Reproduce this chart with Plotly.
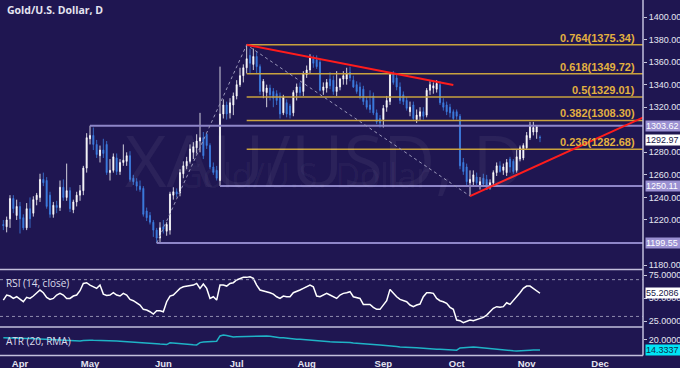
import pandas as pd
import plotly.graph_objects as go

# ---------------- data ----------------
all_days = pd.bdate_range("2016-03-24", "2016-12-30")
month_labels = ["Apr", "May", "Jun", "Jul", "Aug", "Sep", "Oct", "Nov", "Dec"]

opens = [1216,1214,1221,1239,1224,1232,1222,1213,1230,1226,1238,1240,1256,1255,1242,1225,1233,1231,1249,1240,
         1246,1229,1236,1242,1246,1266,1292,1295,1287,1277,1282,1287,1262,1264,1275,1263,1271,1272,1277,1257,
         1254,1250,1248,1228,1224,1218,1211,1204,1214,1210,1211,1242,1245,1244,1261,1268,1272,1280,1284,1290,
         1293,1296,1286,1267,1264,1255,1314,1322,1315,1322,1330,1340,1348,1355,1366,1358,1365,1356,1334,1333,
         1337,1334,1332,1330,1315,1324,1321,1315,1333,1338,1334,1349,1353,1363,1362,1360,1335,1337,1345,1344,
         1334,1338,1345,1345,1351,1344,1340,1338,1336,1326,1322,1330,1315,1310,1309,1320,1325,1349,1346,1338,
         1331,1326,1316,1322,1309,1312,1316,1313,1335,1337,1336,1340,1324,1322,1320,1316,1316,1312,1271,1267,
         1253,1254,1258,1250,1257,1256,1249,1253,1262,1268,1264,1262,1274,1272,1264,1274,1275,1284,1293,1298,
         1298,1293.5]
highs = [1220,1223,1242,1242,1238,1236,1225,1235,1240,1241,1244,1261,1262,1258,1245,1236,1237,1255,1256,1270,
         1249,1238,1245,1251,1268,1297,1303.62,1302,1291,1286,1292,1290,1274,1279,1279,1274,1287,1280,1281,1260,
         1257,1255,1250,1231,1227,1220,1213,1218,1220,1218,1245,1249,1248,1265,1272,1276,1287,1289,1296,1315,
         1298,1297,1288,1271,1268,1356,1327,1325,1328,1333,1344,1355,1358,1375.34,1372,1372,1370,1358,1345,1340,
         1340,1337,1335,1333,1331,1327,1323,1335,1341,1342,1352,1357,1367,1366,1366,1363,1342,1345,1351,1348,
         1352,1346,1352,1355,1356,1348,1343,1342,1339,1329,1335,1333,1318,1313,1322,1330,1351,1352,1349,1342,
         1334,1329,1325,1325,1318,1320,1320,1337,1343,1342,1344,1343,1328,1325,1323,1318,1318,1314,1275,1270,
         1264,1264,1262,1258,1261,1260,1256,1264,1271,1272,1270,1274,1276,1274,1282,1286,1288,1298,1307,1307,
         1304,1295]
lows = [1211,1209,1213,1226,1220,1208,1211,1211,1213,1223,1233,1236,1250,1230,1222,1222,1226,1228,1237,1237,
        1227,1226,1232,1237,1242,1262,1287,1282,1275,1271,1275,1260,1255,1262,1260,1260,1268,1268,1254,1251,
        1246,1245,1223,1219,1216,1205,1199.55,1200,1208,1206,1207,1238,1240,1241,1257,1265,1270,1274,1279,1280,
        1274,1283,1265,1260,1255,1250.11,1310,1309,1310,1313,1327,1338,1342,1350,1350,1353,1350,1331,1328,1320,
        1326,1320,1322,1310,1313,1311,1310,1312,1326,1330,1330,1346,1350,1355,1354,1334,1331,1333,1336,1331,
        1330,1335,1340,1340,1343,1337,1332,1327,1322,1318,1315,1313,1305,1302,1302,1316,1322,1340,1335,1323,
        1322,1317,1312,1308,1306,1308,1309,1311,1331,1332,1333,1322,1317,1313,1311,1308,1309,1265,1260,1251,
        1241.2,1250,1250,1247,1250,1247.5,1247,1250,1259,1262,1260,1259,1262,1261,1262,1272,1273,1282,1291,1295,
        1292,1289]
closes = [1215,1220,1239,1230,1232,1221,1213,1230,1221,1238,1242,1256,1253,1232,1225,1233,1231,1249,1240,1246,
          1230,1236,1242,1246,1266,1293,1295,1287,1278,1282,1279,1262,1264,1276,1263,1271,1273,1277,1256,1254,
          1250,1247,1225,1222,1218,1211,1204,1213,1212,1216,1243,1245,1243,1262,1268,1272,1283,1285,1290,1293,
          1277,1286,1267,1262,1257,1314,1322,1314,1324,1330,1340,1348,1355,1363,1359,1365,1356,1334,1343,1337,
          1331,1328,1326,1314,1329,1314,1313,1333,1338,1333,1350,1353,1364,1359,1356,1335,1338,1342,1339,1334,
          1338,1345,1348,1350,1346,1338,1334,1330,1325,1320,1318,1315,1307,1306,1319,1326,1349,1342,1338,1326,
          1325,1319,1320,1310,1313,1316,1312,1335,1340,1339,1341,1324,1320,1316,1315,1310,1312,1268,1263,1254,
          1256,1260,1253,1254,1252,1247,1253,1262,1268,1263,1267,1271,1267,1263,1276,1284,1286,1295,1304,1302,
          1303,1292.97]

rsi = [47.8,53.3,52.2,49.6,51.4,48.5,46.0,50.7,49.6,52.2,55.1,58.7,55.8,50.7,48.5,49.6,53.3,55.1,53.3,49.6,
       49.6,52.2,53.3,58.0,65.9,66.7,64.1,62.3,60.5,64.1,54.3,52.9,53.3,55.8,53.3,52.2,55.1,53.3,48.5,47.1,
       44.9,42.4,37.7,37.0,35.1,32.6,36.2,36.2,35.1,46.0,52.2,53.3,56.9,60.5,62.3,63.0,63.0,64.1,65.9,60.5,
       65.2,60.5,49.6,51.4,47.8,64.1,64.1,63.0,65.9,66.7,69.6,71.4,72.5,72.5,73.2,71.4,64.1,58.7,58.0,56.9,
       55.8,54.3,51.4,49.6,52.2,51.4,51.4,55.8,56.9,58.7,60.5,62.3,64.1,62.3,52.2,51.4,53.3,55.1,53.3,51.4,
       49.6,53.3,55.1,55.8,56.9,51.4,50.7,49.6,43.1,43.1,43.1,39.9,37.7,37.7,42.4,47.1,59.4,55.1,51.4,48.5,
       47.1,46.0,42.4,40.6,42.4,43.5,51.4,55.8,55.8,55.1,49.6,47.1,46.0,44.2,39.9,37.7,26.1,25.4,23.2,24.3,
       26.1,25.4,26.8,27.9,29.0,31.5,35.1,38.8,40.6,39.9,40.6,44.9,43.1,47.1,51.4,55.8,60.5,63.0,63.0,60.5,
       58.0,55.2086]

atr = [21.3,21.3,21.2,21.2,21.1,21.0,21.0,20.9,20.8,20.7,20.6,20.5,20.3,20.2,20.1,20.0,19.8,19.7,19.6,19.5,
       19.6,19.5,19.4,19.4,19.7,20.0,19.9,19.8,19.8,19.7,19.7,19.6,19.5,19.4,19.4,19.3,19.2,19.1,19.0,19.0,
       18.9,18.8,18.6,18.5,18.3,18.1,17.9,17.7,17.5,17.4,18.4,18.2,18.0,18.0,17.9,17.7,17.5,17.3,17.2,18.5,
       18.8,19.0,19.2,19.4,19.3,22.3,22.8,22.6,22.2,21.7,21.8,21.9,21.9,22.1,22.0,22.1,22.2,22.3,22.2,22.3,
       22.1,21.7,21.5,21.3,21.2,20.9,20.6,20.4,20.4,20.4,20.2,20.0,19.9,19.7,19.5,19.6,19.4,19.2,19.0,18.9,
       18.9,18.8,18.7,18.6,18.5,18.3,18.1,18.0,17.8,17.6,17.5,17.4,17.3,17.2,17.1,16.8,16.9,16.6,16.3,16.0,
       16.0,15.9,15.8,15.8,15.6,15.5,15.3,15.3,15.1,14.9,14.8,14.8,14.7,14.6,14.5,14.3,14.2,15.5,15.6,15.8,
       16.1,16.0,15.8,15.6,15.5,15.3,15.2,15.0,14.8,14.6,14.3,14.2,14.1,13.9,13.8,13.8,13.9,14.0,14.2,14.3,
       14.4,14.3337]

fib_ratios = ["0.236", "0.382", "0.5", "0.618", "0.764"]
fib_prices = [1282.68, 1308.30, 1329.01, 1349.72, 1375.34]
fib_start_day = 74

level_prices = [1303.62, 1250.11, 1199.55]
level_start_days = [27, 66, 47]

swing_days = [47, 74, 141]            # Fibonacci swing: low -> high -> low
swing_prices = [1199.55, 1375.34, 1241.2]
resist_days = [74, 136]
resist_prices = [1375.34, 1339.7]
support_days = [141, 193]
support_prices = [1241.2, 1311.0]

last_price = 1292.97
price_ticks = [1180, 1220, 1240, 1260, 1280, 1320, 1340, 1360, 1380, 1400]

# ---------------- styling ----------------
BG = "#1f1651"
W, H = 680, 368
XR = [0, 192.9]
XD = [0, 643 / W]
FONT = "Liberation Sans, Arial, sans-serif"
GOLD = "#c9a23e"
LAV = "#8e86c8"

xpos = list(range(1, 1 + len(opens)))
tick_pos = []
for m in range(4, 13):
    first = [i for i, d in enumerate(all_days) if d.month == m and d.year == 2016][0]
    tick_pos.append(first)

fig = go.Figure()

for p, s in zip(level_prices, level_start_days):
    fig.add_trace(go.Scatter(x=[s, XR[1]], y=[p, p], mode="lines",
                             line=dict(color=LAV, width=2), hoverinfo="skip",
                             xaxis="x", yaxis="y", showlegend=False))
for p in fib_prices:
    fig.add_trace(go.Scatter(x=[fib_start_day, XR[1]], y=[p, p], mode="lines",
                             line=dict(color=GOLD, width=1.5), hoverinfo="skip",
                             xaxis="x", yaxis="y", showlegend=False))
fig.add_trace(go.Scatter(x=swing_days, y=swing_prices, mode="lines",
                         line=dict(color="#9a97ba", width=1, dash="dot"),
                         xaxis="x", yaxis="y", showlegend=False))

fig.add_trace(go.Candlestick(
    x=xpos, open=opens, high=highs, low=lows, close=closes,
    increasing=dict(fillcolor="#ffffff", line=dict(color="#ffffff", width=0.8)),
    decreasing=dict(fillcolor="#3d7fe2", line=dict(color="#3d7fe2", width=0.8)),
    whiskerwidth=0, xaxis="x", yaxis="y", showlegend=False))

fig.add_trace(go.Scatter(x=resist_days, y=resist_prices, mode="lines",
                         line=dict(color="#ff1c1c", width=2),
                         xaxis="x", yaxis="y", showlegend=False))
fig.add_trace(go.Scatter(x=support_days, y=support_prices, mode="lines",
                         line=dict(color="#ff1c1c", width=2),
                         xaxis="x", yaxis="y", showlegend=False))

fig.add_trace(go.Scatter(x=xpos, y=rsi, mode="lines", line=dict(color="#ffffff", width=1.5),
                         xaxis="x2", yaxis="y2", showlegend=False))
for lv in [70, 30]:
    fig.add_trace(go.Scatter(x=XR, y=[lv, lv], mode="lines",
                             line=dict(color="#8f8cae", width=1, dash="3px,3px"),
                             xaxis="x2", yaxis="y2", showlegend=False))
fig.add_trace(go.Scatter(x=xpos, y=atr, mode="lines", line=dict(color="#1fb3c6", width=1.5),
                         xaxis="x3", yaxis="y3", showlegend=False))

axis_common = dict(showgrid=False, zeroline=False, range=XR, domain=XD, fixedrange=True)
tickfont = dict(family=FONT, size=9, color="#e6e6f2")
fig.update_layout(
    width=W, height=H, margin=dict(l=0, r=0, t=0, b=0),
    paper_bgcolor=BG, plot_bgcolor=BG, boxgap=0.55,
    xaxis=dict(**axis_common, anchor="y", showticklabels=False, rangeslider=dict(visible=False)),
    xaxis2=dict(**axis_common, anchor="y2", showticklabels=False),
    xaxis3=dict(**axis_common, anchor="y3", tickmode="array", tickvals=tick_pos,
                ticktext=month_labels, ticks="",
                tickfont=dict(family=FONT, size=9.5, color="#e4e4f0", weight="bold")),
    yaxis=dict(domain=[0.269, 1.0], range=[1176.5, 1415.1], side="right", anchor="x",
               tickmode="array", tickvals=price_ticks, ticktext=[f"{v:.2f}" for v in price_ticks],
               ticks="outside", ticklen=3, tickcolor="#c8c8dc", tickfont=tickfont,
               showgrid=False, zeroline=False, fixedrange=True),
    yaxis2=dict(domain=[0.1114, 0.2663], range=[18.5, 80.5], side="right", anchor="x2",
                tickmode="array", tickvals=[25, 50, 75], ticktext=["25.0000", "50.0000", "75.0000"],
                ticks="outside", ticklen=3, tickcolor="#c8c8dc", tickfont=tickfont,
                showgrid=False, zeroline=False, fixedrange=True),
    yaxis3=dict(domain=[0.0326, 0.1087], range=[10.9, 26.8], side="right", anchor="x3",
                tickmode="array", tickvals=[20], ticktext=["20.0000"],
                ticks="outside", ticklen=3, tickcolor="#c8c8dc", tickfont=tickfont,
                showgrid=False, zeroline=False, fixedrange=True),
)

xr = XD[1]
for yy in [1 - 269.5 / H, 1 - 327 / H, 1 - 355.5 / H]:
    fig.add_shape(type="line", xref="paper", yref="paper", x0=0, x1=xr, y0=yy, y1=yy,
                  line=dict(color="#c2bfdc", width=1.5))
fig.add_shape(type="line", xref="paper", yref="paper", x0=xr, x1=xr, y0=1 - 355.5 / H, y1=1,
              line=dict(color="#c2bfdc", width=1.5))

ann = []
ann.append(dict(text="XAU/USD, D", xref="paper", yref="paper", x=325 / W, y=1 - 108 / H,
                showarrow=False, font=dict(family="Open Sans", size=72, color="rgba(255,255,255,0.055)")))
ann.append(dict(text="Gold/U.S. Dollar", xref="paper", yref="paper", x=304 / W, y=1 - 175 / H,
                showarrow=False, font=dict(family="Open Sans", size=34, color="rgba(255,255,255,0.055)")))
ann.append(dict(text="<b>Gold/U.S. Dollar, D</b>", xref="paper", yref="paper", x=5 / W, y=1 - 10 / H,
                xanchor="left", yanchor="middle", showarrow=False,
                font=dict(family="Open Sans", size=10.5, color="#e4e4f0")))
ann.append(dict(text="RSI (14, close)", xref="paper", yref="paper", x=4 / W, y=1 - 283 / H,
                xanchor="left", yanchor="middle", showarrow=False,
                font=dict(family="Open Sans", size=10, color="#dcdcec")))
ann.append(dict(text="ATR (20, RMA)", xref="paper", yref="paper", x=4 / W, y=1 - 341 / H,
                xanchor="left", yanchor="middle", showarrow=False,
                font=dict(family="Open Sans", size=10, color="#dcdcec")))
for r, p in zip(fib_ratios, fib_prices):
    ann.append(dict(text=f"<b>{r}({p:.2f})</b>", x=191.2, y=p, xref="x", yref="y",
                    xanchor="right", yanchor="bottom", showarrow=False, yshift=-1,
                    font=dict(family=FONT, size=11, color="#e2b040")))

def box(val, yref, text, bg, fg, yshift=0):
    ann.append(dict(text=text, x=645 / W, y=val, xref="paper", yref=yref, xanchor="left",
                    yanchor="middle", showarrow=False, bgcolor=bg, borderpad=0, yshift=yshift,
                    font=dict(family=FONT, size=9, color=fg), width=36, align="left"))

box(level_prices[0], "y", f"{level_prices[0]:.2f}", "#9a90d2", "#ffffff")
box(last_price, "y", f"{last_price:.2f}", "#ffffff", "#20204a", yshift=-2)
box(level_prices[1], "y", f"{level_prices[1]:.2f}", "#9a90d2", "#ffffff")
box(level_prices[2], "y", f"{level_prices[2]:.2f}", "#9a90d2", "#ffffff")
box(rsi[-1], "y2", f"{rsi[-1]:.4f}", "#ffffff", "#20204a")
box(atr[-1], "y3", f"{atr[-1]:.4f}", "#00e5f5", "#10304a")

fig.update_layout(annotations=ann)
fig.write_html("out.html", config={"displayModeBar": False},
               post_script="document.body.style.margin='0';document.body.style.padding='0';")
